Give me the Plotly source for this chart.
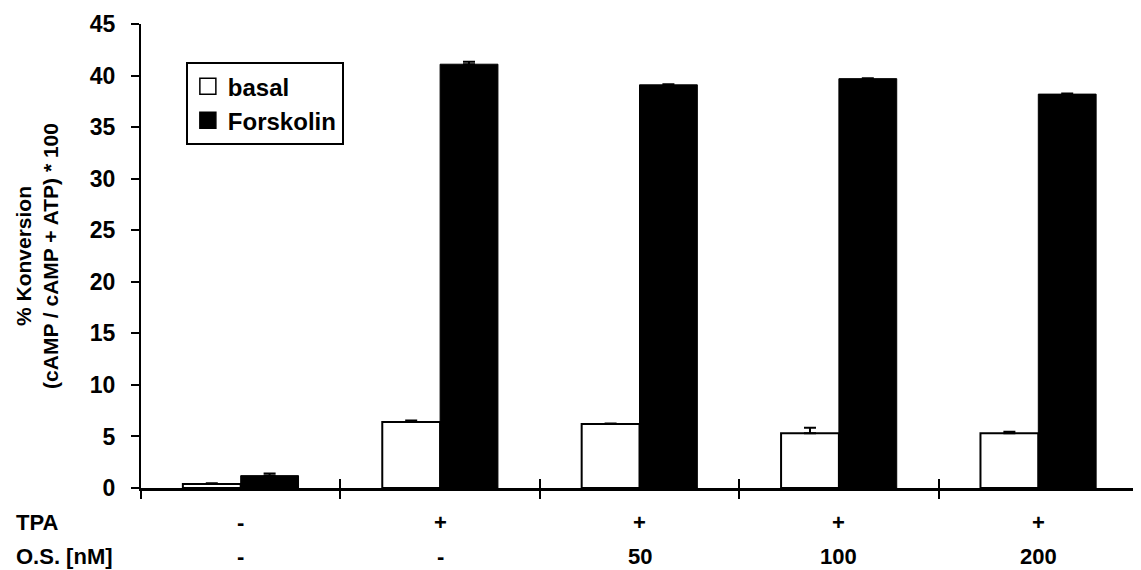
import plotly.graph_objects as go

# ---- data ----
groups = [0, 1, 2, 3, 4]
tpa_labels = ["-", "+", "+", "+", "+"]
os_labels = ["-", "-", "50", "100", "200"]
basal = [0.4, 6.4, 6.2, 5.3, 5.3]
basal_err = [0.05, 0.15, 0.05, 0.55, 0.15]
forskolin = [1.2, 41.1, 39.1, 39.7, 38.2]
forskolin_err = [0.2, 0.25, 0.05, 0.05, 0.05]
yticks = [0, 5, 10, 15, 20, 25, 30, 35, 40, 45]
row_names = ["TPA", "O.S. [nM]"]

FONT = "Liberation Sans, Arial, sans-serif"
FS = 22


def f(size):
    return dict(family=FONT, size=size, color="black", weight="bold")


fig = go.Figure()
fig.add_trace(go.Bar(
    x=groups, y=basal, name="basal", showlegend=False,
    marker=dict(color="white", line=dict(color="black", width=2)),
    error_y=dict(type="data", array=basal_err, visible=True, color="black",
                 thickness=2, width=6, symmetric=False, arrayminus=[0] * 5),
))
fig.add_trace(go.Bar(
    x=groups, y=forskolin, name="Forskolin", showlegend=False,
    marker=dict(color="black", line=dict(color="black", width=1)),
    error_y=dict(type="data", array=forskolin_err, visible=True, color="black",
                 thickness=2, width=6, symmetric=False, arrayminus=[0] * 5),
))
# legend proxies
fig.add_trace(go.Scatter(x=[None], y=[None], mode="markers", name="basal",
                         marker=dict(symbol="square", size=16, color="white",
                                     line=dict(color="black", width=1.5))))
fig.add_trace(go.Scatter(x=[None], y=[None], mode="markers", name="Forskolin",
                         marker=dict(symbol="square", size=16, color="black",
                                     line=dict(color="black", width=1.5))))
# helper for inside ticks on x axis
fig.add_trace(go.Scatter(x=[None], y=[None], xaxis="x2", showlegend=False,
                         hoverinfo="skip"))

bounds = [g - 0.5 for g in groups] + [groups[-1] + 0.5]

annotations = []
for g, t, o in zip(groups, tpa_labels, os_labels):
    annotations.append(dict(x=g, y=-0.075, xref="x", yref="paper", text=t,
                            showarrow=False, xanchor="center", yanchor="middle",
                            font=f(FS)))
    annotations.append(dict(x=g, y=-0.147, xref="x", yref="paper", text=o,
                            showarrow=False, xanchor="center", yanchor="middle",
                            font=f(FS)))
for name, yy in zip(row_names, [-0.075, -0.147]):
    annotations.append(dict(x=-0.127, y=yy, xref="paper", yref="paper", text=name,
                            showarrow=False, xanchor="left", yanchor="middle",
                            font=f(FS)))

# page body has an 8px margin; size the figure so it fits the 1141x570 window
fig.update_layout(
    width=1133, height=562,
    margin=dict(l=133, r=3, t=16, b=82),
    paper_bgcolor="white", plot_bgcolor="white",
    barmode="group", bargap=0.42, bargroupgap=0,
    font=f(FS),
    xaxis=dict(range=[bounds[0], bounds[-1]], tickvals=bounds, showticklabels=False,
               ticks="outside", ticklen=8, tickwidth=2, tickcolor="black",
               showline=True, linecolor="black", linewidth=3, showgrid=False,
               zeroline=False),
    xaxis2=dict(range=[bounds[0], bounds[-1]], tickvals=bounds, showticklabels=False,
                ticks="inside", ticklen=9, tickwidth=2, tickcolor="black",
                overlaying="x", anchor="y", showline=False, showgrid=False,
                zeroline=False),
    yaxis=dict(range=[0, 45], tickvals=yticks, ticks="outside", ticklen=8,
               tickwidth=2, tickcolor="black", showline=True, linecolor="black",
               linewidth=2, showgrid=False, zeroline=False,
               tickfont=f(23), ticklabelstandoff=11,
               title=dict(text="% Konversion<br>(cAMP / cAMP + ATP) * 100",
                          font=f(21), standoff=25)),
    legend=dict(x=0.045, y=0.918, xanchor="left", yanchor="top",
                bordercolor="black", borderwidth=2, bgcolor="white",
                font=f(24), itemsizing="trace", tracegroupgap=4),
    annotations=annotations,
    showlegend=True,
)

fig.write_html("out.html")
